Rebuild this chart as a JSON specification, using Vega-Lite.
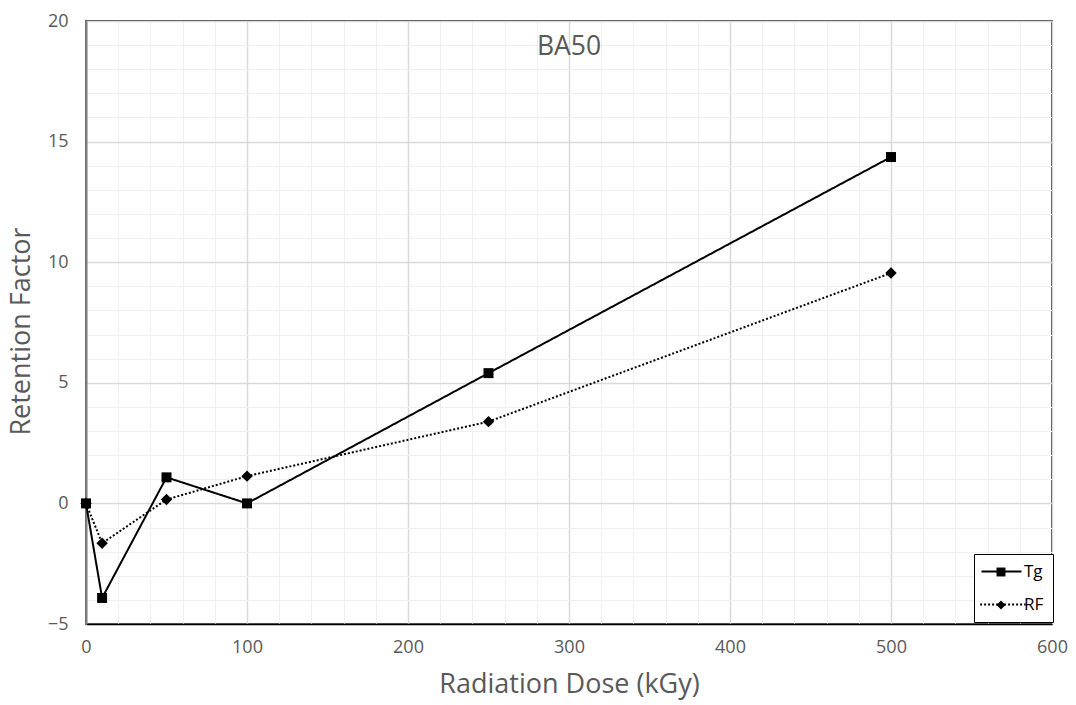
{
  "$schema": "https://vega.github.io/schema/vega-lite/v6.json",
  "width": 966,
  "height": 603,
  "autosize": "none",
  "padding": {"left": 86, "top": 21, "right": 24, "bottom": 81},
  "background": "white",
  "title": {
    "text": "BA50",
    "orient": "top",
    "anchor": "middle",
    "offset": -48,
    "fontSize": 26.5,
    "font": "Open Sans",
    "fontWeight": "normal",
    "color": "#595959"
  },
  "config": {
    "font": "Open Sans",
    "view": {"stroke": "black", "strokeWidth": 1.5},
    "axis": {
      "labelColor": "#595959",
      "labelFontSize": 18,
      "titleColor": "#595959",
      "titleFontSize": 27,
      "titleFontWeight": "normal",
      "ticks": false
    }
  },
  "data": {
    "values": [
      {"dose": 0, "value": 0, "series": "Tg", "marker": "Tg"},
      {"dose": 10, "value": -3.92, "series": "Tg", "marker": "Tg"},
      {"dose": 50, "value": 1.08, "series": "Tg", "marker": "Tg"},
      {"dose": 100, "value": 0, "series": "Tg", "marker": "Tg"},
      {"dose": 250, "value": 5.4, "series": "Tg", "marker": "Tg"},
      {"dose": 500, "value": 14.36, "series": "Tg", "marker": "Tg"},
      {"dose": 0, "value": 0, "series": "RF", "marker": "RF"},
      {"dose": 10, "value": -1.65, "series": "RF", "marker": "RF"},
      {"dose": 50, "value": 0.16, "series": "RF", "marker": "RF"},
      {"dose": 100, "value": 1.13, "series": "RF", "marker": "RF"},
      {"dose": 250, "value": 3.39, "series": "RF", "marker": "RF"},
      {"dose": 500, "value": 9.55, "series": "RF", "marker": "RF"}
    ]
  },
  "encoding": {
    "x": {
      "field": "dose",
      "type": "quantitative",
      "scale": {"domain": [0, 600], "nice": false},
      "axis": {
        "title": "Radiation Dose (kGy)",
        "values": [0,20,40,60,80,100,120,140,160,180,200,220,240,260,280,300,320,340,360,380,400,420,440,460,480,500,520,540,560,580,600],
        "labelExpr": "datum.value % 100 === 0 ? datum.label : ''",
        "gridColor": {"condition": {"test": "datum.value % 100 === 0", "value": "#d9d9d9"}, "value": "#f0f0f0"},
        "gridWidth": {"condition": {"test": "datum.value % 100 === 0", "value": 1.5}, "value": 1},
        "domainColor": "black",
        "domainWidth": 1.5,
        "labelPadding": 14,
        "titlePadding": 15,
        "labelFlush": false
      }
    },
    "y": {
      "field": "value",
      "type": "quantitative",
      "scale": {"domain": [-5, 20], "nice": false},
      "axis": {
        "title": "Retention Factor",
        "values": [-5,-4,-3,-2,-1,0,1,2,3,4,5,6,7,8,9,10,11,12,13,14,15,16,17,18,19,20],
        "labelExpr": "datum.value % 5 === 0 ? datum.label : ''",
        "gridColor": {"condition": {"test": "datum.value % 5 === 0", "value": "#d9d9d9"}, "value": "#f0f0f0"},
        "gridWidth": {"condition": {"test": "datum.value % 5 === 0", "value": 1.5}, "value": 1},
        "domainColor": "#7f7f7f",
        "domainWidth": 2,
        "labelPadding": 18,
        "titlePadding": 12,
        "titleY": 310,
        "labelFlush": false
      }
    }
  },
  "layer": [
    {
      "mark": {"type": "line", "color": "black", "strokeWidth": 2},
      "encoding": {
        "strokeDash": {
          "field": "series",
          "type": "nominal",
          "scale": {"domain": ["Tg", "RF"], "range": [[1, 0], [2, 2]]},
          "legend": {
            "title": null,
            "orient": "none",
            "legendX": 888,
            "legendY": 533,
            "padding": 9,
            "rowPadding": 15,
            "symbolSize": 100,
            "symbolType": "M-2,0H6",
            "symbolStrokeWidth": 2,
            "symbolStrokeColor": "black",
            "labelOffset": 24,
            "labelFontSize": 17,
            "labelColor": "black",
            "fillColor": "white",
            "strokeColor": "black"
          }
        },
        "detail": {"field": "series"}
      }
    },
    {
      "mark": {"type": "point", "filled": true, "color": "black", "opacity": 1},
      "encoding": {
        "shape": {
          "field": "marker",
          "type": "nominal",
          "sort": ["Tg", "RF"],
          "scale": {"range": ["square", "diamond"]},
          "legend": {
            "title": null,
            "orient": "none",
            "legendX": 910.5,
            "legendY": 546.5,
            "padding": 0,
            "rowPadding": 24,
            "symbolSize": 80,
            "symbolFillColor": "black",
            "symbolStrokeColor": "black",
            "symbolStrokeWidth": 0,
            "symbolOpacity": 1,
            "labelFontSize": 1,
            "labelOpacity": 0,
            "labelOffset": 0
          }
        },
        "size": {
          "field": "series",
          "type": "nominal",
          "scale": {"domain": ["Tg", "RF"], "range": [100, 130]},
          "legend": null
        }
      }
    }
  ]
}
